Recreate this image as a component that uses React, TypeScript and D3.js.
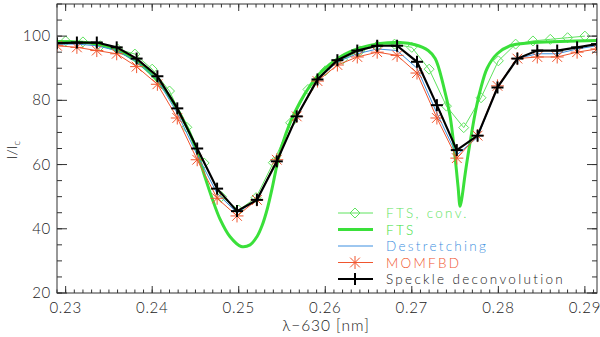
import React from "react";
import * as d3 from "d3";

// Observation wavelengths (λ-630 nm)
const obsX = [0.2290, 0.2313, 0.2336, 0.2359, 0.2382, 0.2406, 0.2429, 0.2452, 0.2475, 0.2498, 0.2521, 0.2544, 0.2567, 0.2591, 0.2614, 0.2637, 0.2660, 0.2683, 0.2706, 0.2729, 0.2752, 0.2776, 0.2799, 0.2822, 0.2845, 0.2868, 0.2891, 0.2914];
const speckle = [97.8, 98, 98, 96.5, 93, 87.5, 77.5, 65, 52.5, 45.5, 49, 61, 75, 86.5, 92.5, 95.5, 97, 97, 92, 78.5, 64.5, 69, 84, 93, 95.5, 95.5, 96.5, 97.5];
const momfbd = [97, 96.5, 95.5, 94.5, 90.5, 85, 74.5, 61.5, 49.5, 44, 49, 61.5, 75, 86, 91, 93.5, 95, 94, 88.5, 74.5, 62, 69, 84.5, 93, 93.5, 93.5, 95, 96];
const destretch = [97.5, 97.5, 97, 95.5, 92, 86.5, 76, 63, 51, 45, 49, 61, 75, 86.5, 92, 94.5, 96, 95.5, 90, 76, 63, 68.5, 84, 93, 94.5, 94.5, 96, 97];

// Convolved FTS
const convX = [0.230, 0.232, 0.234, 0.236, 0.238, 0.240, 0.242, 0.244, 0.246, 0.248, 0.250, 0.252, 0.254, 0.256, 0.258, 0.260, 0.262, 0.264, 0.266, 0.268, 0.270, 0.272, 0.274, 0.276, 0.278, 0.280, 0.282, 0.284, 0.286, 0.288, 0.290];
const convY = [98.5, 98.2, 97, 96, 94.4, 89.7, 82.9, 71.6, 60.5, 50, 45.8, 49.7, 60.6, 73, 83.4, 89.2, 92.8, 95.4, 97, 97.5, 96.5, 89.7, 78.2, 71.5, 80.8, 92.3, 97.5, 98.5, 99, 99.5, 100];

// FTS atlas
const ftsX = [0.22899, 0.23108, 0.23339, 0.23570, 0.23801, 0.24032, 0.24229, 0.24414, 0.24518, 0.24611, 0.24692, 0.24784, 0.24900, 0.25027, 0.25131, 0.25212, 0.25270, 0.25328, 0.25385, 0.25443, 0.25501, 0.25593, 0.25709, 0.25824, 0.25940, 0.26171, 0.26402, 0.26634, 0.26865, 0.27038, 0.27189, 0.27270, 0.27362, 0.27443, 0.27501, 0.27535, 0.27558, 0.27581, 0.27616, 0.27674, 0.27732, 0.27790, 0.27871, 0.27987, 0.28137, 0.28368, 0.28715, 0.29142];
const ftsY = [98.3, 98.2, 97.6, 95.8, 92.5, 87, 80, 71, 64, 56, 49.5, 43, 37.5, 34.5, 35, 37.6, 41, 46, 52.5, 60, 66, 73, 79.5, 84.5, 88.5, 93.5, 96.3, 97.7, 98, 97.3, 95.5, 93, 85, 75, 62, 53, 47, 50, 57, 67, 76, 83, 90, 94.5, 97, 97.9, 98.3, 98.6];

const xTicks = [0.23, 0.24, 0.25, 0.26, 0.27, 0.28, 0.29];
const yTicks = [20, 40, 60, 80, 100];
const legendLabels = ["FTS, conv.", "FTS", "Destretching", "MOMFBD", "Speckle deconvolution"];

const C_CONV = "#5fe35f";
const C_FTS = "#3ae03a";
const C_DES = "#3d8fe0";
const C_MOM = "#f0552e";
const C_SPK = "#000000";
const AX = "#333";
const TXT = "#222";
const FONT = "Lato, 'Liberation Sans', Arial, sans-serif";

const W = 600, H = 337;
const L = 57, R = 597, T = 4, B = 293;

export default function App() {
  const x = d3.scaleLinear().domain([0.229, 0.2914]).range([L, R]);
  const y = d3.scaleLinear().domain([20, 110]).range([B, T]);

  const line = d3.line<[number, number]>().x(d => x(d[0])).y(d => y(d[1]));
  const smooth = d3.line<[number, number]>().x(d => x(d[0])).y(d => y(d[1])).curve(d3.curveCatmullRom.alpha(0.5));

  const zip = (a: number[], b: number[]) => a.map((v, i) => [v, b[i]] as [number, number]);
  const spk = zip(obsX, speckle);
  const mom = zip(obsX, momfbd);
  const des = zip(obsX, destretch);
  const conv = zip(convX, convY);
  const fts = zip(ftsX, ftsY);

  const minorX = d3.range(229, 292).map(v => v / 1000).filter(v => v >= 0.229 && v <= 0.2914);
  const minorY = d3.range(20, 111, 5);

  const diamond = (cx: number, cy: number, r: number, col: string, k: string) => (
    <path key={k} d={`M${cx},${cy - r}L${cx + r},${cy}L${cx},${cy + r}L${cx - r},${cy}Z`} fill="none" stroke={col} strokeWidth={1} />
  );
  const star = (cx: number, cy: number, r: number, col: string, k: string) => (
    <g key={k} stroke={col} strokeWidth={1}>
      <line x1={cx - r} y1={cy} x2={cx + r} y2={cy} />
      <line x1={cx} y1={cy - r} x2={cx} y2={cy + r} />
      <line x1={cx - r * 0.75} y1={cy - r * 0.75} x2={cx + r * 0.75} y2={cy + r * 0.75} />
      <line x1={cx - r * 0.75} y1={cy + r * 0.75} x2={cx + r * 0.75} y2={cy - r * 0.75} />
    </g>
  );
  const plus = (cx: number, cy: number, r: number, col: string, k: string) => (
    <g key={k} stroke={col} strokeWidth={2}>
      <line x1={cx - r} y1={cy} x2={cx + r} y2={cy} />
      <line x1={cx} y1={cy - r} x2={cx} y2={cy + r} />
    </g>
  );

  const legendY = [213, 229.5, 246, 262.5, 279];
  const lx0 = 338, lx1 = 373, lxm = 355, tx = 386;
  const colors = [C_CONV, C_FTS, C_DES, C_MOM, C_SPK];

  return (
    <svg width={W} height={H} style={{ position: "absolute", left: 0, top: 0, background: "#fff" }} fontFamily={FONT}>
      <rect x={0} y={0} width={W} height={H} fill="#fff" />
      <defs>
        <clipPath id="plot"><rect x={L} y={T} width={R - L} height={B - T} /></clipPath>
      </defs>
      <g clipPath="url(#plot)">
        <path d={line(conv) || ""} fill="none" stroke={C_CONV} strokeWidth={1} />
        {conv.map((d, i) => diamond(x(d[0]), y(d[1]), 5, C_CONV, "d" + i))}
        <path d={smooth(fts) || ""} fill="none" stroke={C_FTS} strokeWidth={3} />
        <path d={line(des) || ""} fill="none" stroke={C_DES} strokeWidth={1} />
        <path d={line(mom) || ""} fill="none" stroke={C_MOM} strokeWidth={1} />
        {mom.map((d, i) => star(x(d[0]), y(d[1]), 6.5, C_MOM, "m" + i))}
        <path d={line(spk) || ""} fill="none" stroke={C_SPK} strokeWidth={2.2} />
        {spk.map((d, i) => plus(x(d[0]), y(d[1]), 6, C_SPK, "s" + i))}
      </g>

      <rect x={L} y={T} width={R - L} height={B - T} fill="none" stroke={AX} strokeWidth={1} />
      {minorX.map((v, i) => (
        <g key={"mx" + i} stroke={AX}>
          <line x1={x(v)} x2={x(v)} y1={B} y2={B - 3.5} />
          <line x1={x(v)} x2={x(v)} y1={T} y2={T + 3.5} />
        </g>
      ))}
      {xTicks.map((v, i) => (
        <g key={"x" + i}>
          <line x1={x(v)} x2={x(v)} y1={B} y2={B - 7} stroke={AX} />
          <line x1={x(v)} x2={x(v)} y1={T} y2={T + 7} stroke={AX} />
          <text x={x(v)} y={313} textAnchor="middle" fontSize={15} fontWeight={300} letterSpacing={0.7} fill={TXT}>{v.toFixed(2)}</text>
        </g>
      ))}
      {minorY.map((v, i) => (
        <g key={"my" + i} stroke={AX}>
          <line x1={L} x2={L + 5} y1={y(v)} y2={y(v)} />
          <line x1={R} x2={R - 5} y1={y(v)} y2={y(v)} />
        </g>
      ))}
      {yTicks.map((v, i) => (
        <g key={"y" + i}>
          <line x1={L} x2={L + 10} y1={y(v)} y2={y(v)} stroke={AX} />
          <line x1={R} x2={R - 10} y1={y(v)} y2={y(v)} stroke={AX} />
          <text x={51} y={y(v) + 5} textAnchor="end" fontSize={15} fontWeight={300} letterSpacing={0.7} fill={TXT}>{v}</text>
        </g>
      ))}
      <text x={326} y={331} textAnchor="middle" fontSize={15.5} fontWeight={300} letterSpacing={0.9} fill={TXT}>λ−630 [nm]</text>
      <text transform="translate(17,150) rotate(-90)" textAnchor="middle" fontSize={14.5} fontWeight={300} fill={TXT}>
        I/I<tspan fontSize={10} dy={3}>c</tspan>
      </text>

      {legendLabels.map((lab, i) => {
        const ly = legendY[i];
        const col = colors[i];
        const sw = i === 1 ? 3 : i === 4 ? 2.2 : 1;
        return (
          <g key={"lg" + i}>
            <line x1={lx0} x2={lx1} y1={ly} y2={ly} stroke={col} strokeWidth={sw} />
            {i === 0 && diamond(lxm, ly, 5, col, "ld")}
            {i === 3 && star(lxm, ly, 6.5, col, "ls")}
            {i === 4 && plus(lxm, ly, 6, col, "lp")}
            <text x={tx} y={ly + 5} fontSize={13.5} fontWeight={300} letterSpacing={2.3} fill={i === 4 ? "#222" : col}>{lab}</text>
          </g>
        );
      })}
    </svg>
  );
}
